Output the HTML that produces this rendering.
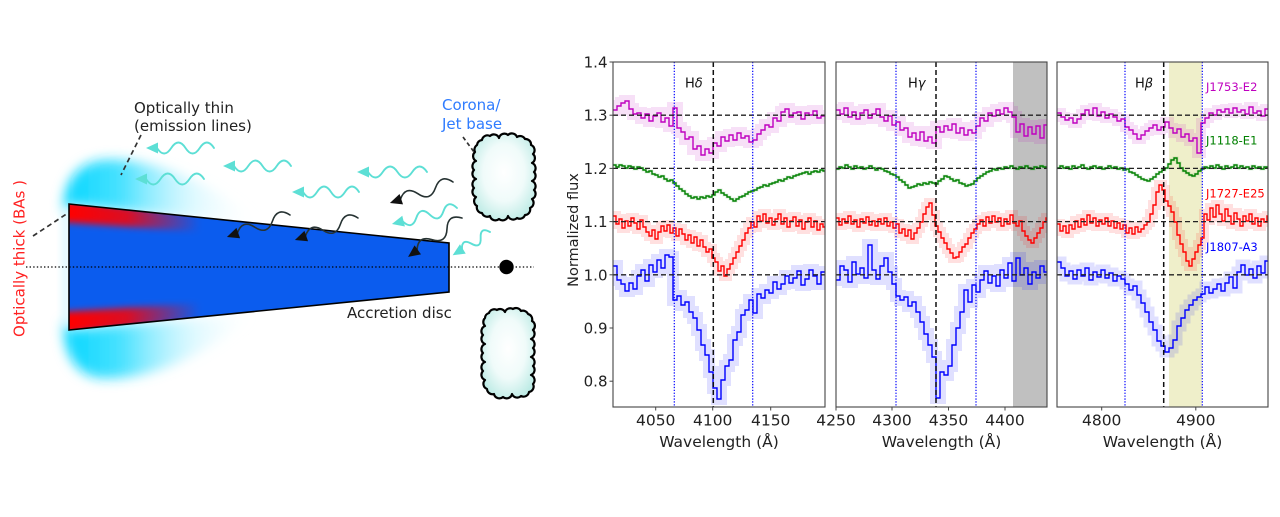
<!DOCTYPE html>
<html><head><meta charset="utf-8">
<style>
html,body{margin:0;padding:0;background:#fff;}
svg{display:block;}
text{font-family:"DejaVu Sans","Liberation Sans",sans-serif;}
</style></head><body>
<svg width="1280" height="517" viewBox="0 0 1280 517" xmlns="http://www.w3.org/2000/svg">
<defs>
  <filter id="blur6" x="-50%" y="-50%" width="200%" height="200%"><feGaussianBlur stdDeviation="6"/></filter>
  <filter id="blur3" x="-50%" y="-50%" width="200%" height="200%"><feGaussianBlur stdDeviation="3.5"/></filter>
  <linearGradient id="cyanL" gradientUnits="userSpaceOnUse" x1="62" y1="0" x2="262" y2="0">
    <stop offset="0" stop-color="#00d6ff" stop-opacity="1"/>
    <stop offset="0.3" stop-color="#2adcff" stop-opacity="0.85"/>
    <stop offset="0.65" stop-color="#a8efff" stop-opacity="0.4"/>
    <stop offset="1" stop-color="#ffffff" stop-opacity="0"/>
  </linearGradient>
  <linearGradient id="redL" gradientUnits="userSpaceOnUse" x1="69" y1="0" x2="200" y2="0">
    <stop offset="0" stop-color="#ff0000" stop-opacity="1"/>
    <stop offset="0.45" stop-color="#ff0000" stop-opacity="0.85"/>
    <stop offset="1" stop-color="#ff0000" stop-opacity="0"/>
  </linearGradient>
  <clipPath id="discClip"><polygon points="69,204 449,243 449,292 69,330"/></clipPath>
  <radialGradient id="cloudG" cx="0.5" cy="0.45" r="0.6">
    <stop offset="0" stop-color="#ffffff"/>
    <stop offset="0.55" stop-color="#f0fbfa"/>
    <stop offset="1" stop-color="#bdebe5"/>
  </radialGradient>
  <clipPath id="c1"><rect x="613" y="62" width="212" height="345"/></clipPath>
  <clipPath id="c2"><rect x="836" y="62" width="211" height="345"/></clipPath>
  <clipPath id="c3"><rect x="1057" y="62" width="211" height="345"/></clipPath>
</defs>
<rect width="1280" height="517" fill="#fff"/>

<!-- ===== Left diagram ===== -->
<path d="M64,214 C62,186 74,163 104,160 C150,157 215,183 265,226 L69,205 Z" fill="url(#cyanL)" filter="url(#blur6)"/>
<path d="M64,320 C62,350 74,375 100,378 C150,381 205,355 255,314 L69,329 Z" fill="url(#cyanL)" filter="url(#blur6)"/>
<rect x="61" y="210" width="9" height="115" fill="#c8f4ff" opacity="0.5" filter="url(#blur3)"/>

<polygon points="69,204 449,243 449,292 69,330" fill="#0b5cee"/>
<g clip-path="url(#discClip)">
  <polygon points="60,200 205,215 205,232 60,222" fill="url(#redL)" filter="url(#blur3)"/>
  <polygon points="60,312 205,303 205,320 60,334" fill="url(#redL)" filter="url(#blur3)"/>
</g>
<polygon points="69,204 449,243 449,292 69,330" fill="none" stroke="#000" stroke-width="1.6"/>

<line x1="26" y1="267" x2="534" y2="267" stroke="#000" stroke-width="1.3" stroke-dasharray="1.4 2.2"/>
<circle cx="506.5" cy="267" r="7.2" fill="#000"/>

<line x1="33" y1="236" x2="68" y2="213" stroke="#333" stroke-width="1.7" stroke-dasharray="5 3.5"/>
<line x1="141" y1="135" x2="121" y2="175" stroke="#333" stroke-width="1.7" stroke-dasharray="5 3.5"/>
<line x1="463" y1="137" x2="474" y2="152" stroke="#333" stroke-width="1.7" stroke-dasharray="4 3"/>

<!-- clouds -->
<path d="M482,140 A5.5,5.5 0 0 1 490,136 A5.5,5.5 0 0 1 499,138 A5.5,5.5 0 0 1 508,135 A5.5,5.5 0 0 1 517,137 A5.5,5.5 0 0 1 525,139 A5.5,5.5 0 0 1 531,145 A5.5,5.5 0 0 1 533,154 A5.5,5.5 0 0 1 532,163 A5.5,5.5 0 0 1 534,172 A5.5,5.5 0 0 1 532,181 A5.5,5.5 0 0 1 534,190 A5.5,5.5 0 0 1 532,199 A5.5,5.5 0 0 1 530,208 A5.5,5.5 0 0 1 525,215 A5.5,5.5 0 0 1 517,218 A5.5,5.5 0 0 1 508,216 A5.5,5.5 0 0 1 499,219 A5.5,5.5 0 0 1 490,216 A5.5,5.5 0 0 1 482,213 A5.5,5.5 0 0 1 477,206 A5.5,5.5 0 0 1 476,197 A5.5,5.5 0 0 1 474,188 A5.5,5.5 0 0 1 476,179 A5.5,5.5 0 0 1 474,170 A5.5,5.5 0 0 1 476,161 A5.5,5.5 0 0 1 475,152 A5.5,5.5 0 0 1 477,145 A5.5,5.5 0 0 1 482,140 Z" fill="url(#cloudG)" stroke="#000" stroke-width="2.2" stroke-linejoin="round"/>
<path d="M489,313 A5.5,5.5 0 0 1 497,310 A5.5,5.5 0 0 1 505,312 A5.5,5.5 0 0 1 513,309 A5.5,5.5 0 0 1 521,311 A5.5,5.5 0 0 1 528,314 A5.5,5.5 0 0 1 532,321 A5.5,5.5 0 0 1 533,330 A5.5,5.5 0 0 1 531,339 A5.5,5.5 0 0 1 533,348 A5.5,5.5 0 0 1 531,357 A5.5,5.5 0 0 1 533,366 A5.5,5.5 0 0 1 531,375 A5.5,5.5 0 0 1 533,384 A5.5,5.5 0 0 1 529,392 A5.5,5.5 0 0 1 521,396 A5.5,5.5 0 0 1 512,394 A5.5,5.5 0 0 1 503,397 A5.5,5.5 0 0 1 494,394 A5.5,5.5 0 0 1 487,389 A5.5,5.5 0 0 1 485,380 A5.5,5.5 0 0 1 483,371 A5.5,5.5 0 0 1 485,362 A5.5,5.5 0 0 1 483,353 A5.5,5.5 0 0 1 485,344 A5.5,5.5 0 0 1 483,335 A5.5,5.5 0 0 1 485,326 A5.5,5.5 0 0 1 485,318 A5.5,5.5 0 0 1 489,313 Z" fill="url(#cloudG)" stroke="#000" stroke-width="2.2" stroke-linejoin="round"/>

<!-- cyan wavy arrows -->
<g fill="none" stroke="#5ddfd5" stroke-width="1.9" stroke-linecap="round">
  <path transform="translate(214,148)" d="M0,0 q-7.1,-11 -14.25,0 t-14.25,0 t-14.25,0 t-14.25,0"/>
  <path transform="translate(204,179)" d="M0,0 q-7.25,-11 -14.5,0 t-14.5,0 t-14.5,0 t-14.5,0"/>
  <path transform="translate(291,166)" d="M0,0 q-7.1,-11 -14.25,0 t-14.25,0 t-14.25,0 t-14.25,0"/>
  <path transform="translate(427,172)" d="M0,0 q-7.4,-11 -14.75,0 t-14.75,0 t-14.75,0 t-14.75,0"/>
  <path transform="translate(359,192)" d="M0,0 q-7,-11 -14,0 t-14,0 t-14,0 t-14,0"/>
  <path transform="translate(457,208) rotate(-13.8)" d="M0,0 q-7,-11 -14,0 t-14,0 t-14,0 t-14,0"/>
  <path transform="translate(490,232) rotate(-31.9)" d="M0,0 q-5.5,-10 -11,0 t-11,0 t-11,0"/>
</g>
<g fill="#5ddfd5">
  <polygon transform="translate(214,148)" points="-68,0 -56,-5.5 -56,5.5"/>
  <polygon transform="translate(204,179)" points="-69,0 -57,-5.5 -57,5.5"/>
  <polygon transform="translate(291,166)" points="-68,0 -56,-5.5 -56,5.5"/>
  <polygon transform="translate(427,172)" points="-70,0 -58,-5.5 -58,5.5"/>
  <polygon transform="translate(359,192)" points="-67,0 -55,-5.5 -55,5.5"/>
  <polygon transform="translate(457,208) rotate(-13.8)" points="-67,0 -55,-5.5 -55,5.5"/>
  <polygon transform="translate(490,232) rotate(-31.9)" points="-44,0 -32,-5.5 -32,5.5"/>
</g>
<!-- dark wavy arrows -->
<g fill="none" stroke="#263232" stroke-width="1.6" stroke-linecap="round">
  <path transform="translate(453,182) rotate(-18.4)" d="M0,0 q-9.2,-12 -18.5,0 t-18.5,0 t-18.5,0"/>
  <path transform="translate(462,218) rotate(-35.8)" d="M0,0 q-9.2,-12 -18.5,0 t-18.5,0 t-18.5,0"/>
  <path transform="translate(358,218) rotate(-19.2)" d="M0,0 q-9.3,-12 -18.6,0 t-18.6,0 t-18.6,0"/>
  <path transform="translate(290,215) rotate(-19.2)" d="M0,0 q-9.3,-12 -18.6,0 t-18.6,0 t-18.6,0"/>
</g>
<g fill="#111">
  <polygon transform="translate(453,182) rotate(-18.4)" points="-66.5,0 -54.5,-5.5 -54.5,5.5"/>
  <polygon transform="translate(462,218) rotate(-35.8)" points="-66.5,0 -54.5,-5.5 -54.5,5.5"/>
  <polygon transform="translate(358,218) rotate(-19.2)" points="-66.8,0 -54.8,-5.5 -54.8,5.5"/>
  <polygon transform="translate(290,215) rotate(-19.2)" points="-66.8,0 -54.8,-5.5 -54.8,5.5"/>
</g>

<text x="134" y="113" font-size="15" fill="#222">Optically thin</text>
<text x="134" y="131" font-size="15" fill="#222">(emission lines)</text>
<text x="442" y="110" font-size="15" fill="#2f7cff">Corona/</text>
<text x="442" y="129" font-size="15" fill="#2f7cff">Jet base</text>
<text x="347" y="318" font-size="15" fill="#222">Accretion disc</text>
<text transform="translate(24.5,258.5) rotate(-90)" text-anchor="middle" font-size="15" fill="#ff2222">Optically thick (BAs )</text>

<!-- ===== Spectra panels ===== -->
<rect x="1013" y="62" width="34" height="345" fill="#c0c0c0"/>
<rect x="1169" y="62" width="33" height="345" fill="#efefca"/>

<!-- Panel 1 -->
<g clip-path="url(#c1)" fill="none">
  <g stroke-opacity="0.12">
    <path stroke="#bf00bf" stroke-width="12" d="M613,110h4V106h4V103h4V101h4V109h4V114h4V113h4V118h4V114h4V121h4V116h4V113h4V122h4V118h4V126h4V108h4V128h4V132h4V139h4V137h4V149h4V146h4V155h4V149h4V153h4V143h4V146h4V137h4V141h4V135h4V140h4V133h4V138h4V136h4V142h4V140h4V134h4V130h4V125h4V127h4V118h4V121h4V112h4V109h4V117h4V113h4V112h4V119h4V113h4V115h4V111h4V118h4V116h4"/>
    <path stroke="#ff0000" stroke-width="10" d="M613,216h3V224h3V219h3V228h3V221h3V226h3V218h3V223h3V229h3V220h3V227h3V232h3V236h3V230h3V239h3V232h3V226h3V231h3V225h3V233h3V228h3V236h3V229h3V234h3V240h3V235h3V243h3V237h3V246h3V240h3V247h3V252h3V249h3V258h3V262h3V271h3V266h3V276h3V269h3V264h3V258h3V252h3V246h3V240h3V233h3V228h3V222h3V227h3V216h3V221h3V214h3V223h3V218h3V225h3V219h3V214h3V224h3V218h3V227h3V221h3V217h3V226h3V220h3V229h3V222h3V218h3V227h3V221h3V230h3V224h3V227h3"/>
    <path stroke="#0000ff" stroke-width="12" d="M613,266h4V280h4V284h4V291h4V283h4V289h4V276h4V270h4V281h4V265h4V272h4V260h4V268h4V255h4V257h4V300h4V296h4V305h4V302h4V312h4V318h4V330h4V345h4V355h4V372h4V388h4V399h4V380h4V366h4V360h4V340h4V332h4V315h4V310h4V300h4V313h4V294h4V298h4V290h4V293h4V282h4V289h4V284h4V276h4V283h4V278h4V271h4V285h4V279h4V270h4V276h4V284h4V272h4"/>
    <path stroke="#008000" stroke-width="3" d="M613,165h3V167h3V165h3V166h3V168h3V166h3V167h3V169h3V167h3V168h3V170h3V172h3V171h3V174h3V175h3V177h3V176h3V179h3V181h3V180h3V183h3V186h3V189h3V191h3V194h3V196h3V198h3V197h3V199h3V197h3V198h3V196h3V197h3V195h3V192h3V190h3V193h3V195h3V197h3V199h3V201h3V199h3V197h3V196h3V194h3V192h3V191h3V190h3V188h3V187h3V185h3V186h3V184h3V183h3V182h3V180h3V181h3V179h3V177h3V178h3V176h3V175h3V174h3V173h3V172h3V174h3V172h3V171h3V172h3V170h3V171h3"/>
  </g>
  <g stroke-width="1.4">
    <path stroke="#bf00bf" d="M613,110h4V106h4V103h4V101h4V109h4V114h4V113h4V118h4V114h4V121h4V116h4V113h4V122h4V118h4V126h4V108h4V128h4V132h4V139h4V137h4V149h4V146h4V155h4V149h4V153h4V143h4V146h4V137h4V141h4V135h4V140h4V133h4V138h4V136h4V142h4V140h4V134h4V130h4V125h4V127h4V118h4V121h4V112h4V109h4V117h4V113h4V112h4V119h4V113h4V115h4V111h4V118h4V116h4"/>
    <path stroke="#008000" d="M613,165h3V167h3V165h3V166h3V168h3V166h3V167h3V169h3V167h3V168h3V170h3V172h3V171h3V174h3V175h3V177h3V176h3V179h3V181h3V180h3V183h3V186h3V189h3V191h3V194h3V196h3V198h3V197h3V199h3V197h3V198h3V196h3V197h3V195h3V192h3V190h3V193h3V195h3V197h3V199h3V201h3V199h3V197h3V196h3V194h3V192h3V191h3V190h3V188h3V187h3V185h3V186h3V184h3V183h3V182h3V180h3V181h3V179h3V177h3V178h3V176h3V175h3V174h3V173h3V172h3V174h3V172h3V171h3V172h3V170h3V171h3"/>
    <path stroke="#ff0000" d="M613,216h3V224h3V219h3V228h3V221h3V226h3V218h3V223h3V229h3V220h3V227h3V232h3V236h3V230h3V239h3V232h3V226h3V231h3V225h3V233h3V228h3V236h3V229h3V234h3V240h3V235h3V243h3V237h3V246h3V240h3V247h3V252h3V249h3V258h3V262h3V271h3V266h3V276h3V269h3V264h3V258h3V252h3V246h3V240h3V233h3V228h3V222h3V227h3V216h3V221h3V214h3V223h3V218h3V225h3V219h3V214h3V224h3V218h3V227h3V221h3V217h3V226h3V220h3V229h3V222h3V218h3V227h3V221h3V230h3V224h3V227h3"/>
    <path stroke="#0000ff" d="M613,266h4V280h4V284h4V291h4V283h4V289h4V276h4V270h4V281h4V265h4V272h4V260h4V268h4V255h4V257h4V300h4V296h4V305h4V302h4V312h4V318h4V330h4V345h4V355h4V372h4V388h4V399h4V380h4V366h4V360h4V340h4V332h4V315h4V310h4V300h4V313h4V294h4V298h4V290h4V293h4V282h4V289h4V284h4V276h4V283h4V278h4V271h4V285h4V279h4V270h4V276h4V284h4V272h4"/>
  </g>
  <g stroke="#222" stroke-width="1.3" stroke-dasharray="5 3">
    <line x1="613" y1="115.2" x2="825" y2="115.2"/>
    <line x1="613" y1="168.4" x2="825" y2="168.4"/>
    <line x1="613" y1="221.6" x2="825" y2="221.6"/>
    <line x1="613" y1="274.8" x2="825" y2="274.8"/>
  </g>
  <g stroke="#0000ff" stroke-width="1.2" stroke-dasharray="1.3 1.6">
    <line x1="674.3" y1="62" x2="674.3" y2="407"/>
    <line x1="752.7" y1="62" x2="752.7" y2="407"/>
  </g>
  <line x1="713.3" y1="62" x2="713.3" y2="407" stroke="#111" stroke-width="1.5" stroke-dasharray="5 3"/>
</g>

<!-- Panel 2 -->
<g clip-path="url(#c2)" fill="none">
  <g stroke-opacity="0.12">
    <path stroke="#bf00bf" stroke-width="12" d="M836,110h4V114h4V108h4V117h4V112h4V119h4V113h4V110h4V118h4V114h4V109h4V117h4V121h4V116h4V125h4V122h4V130h4V128h4V137h4V133h4V140h4V132h4V141h4V137h4V143h4V127h4V132h4V126h4V130h4V124h4V133h4V128h4V135h4V130h4V133h4V126h4V118h4V121h4V113h4V116h4V110h4V114h4V108h4V112h4V117h4V132h4V124h4V136h4V127h4V134h4V126h4V138h4V125h4"/>
    <path stroke="#ff0000" stroke-width="10" d="M836,218h3V225h3V219h3V223h3V216h3V224h3V220h3V227h3V219h3V223h3V217h3V225h3V221h3V226h3V219h3V224h3V218h3V226h3V222h3V228h3V224h3V233h3V229h3V236h3V230h3V239h3V233h3V228h3V222h3V214h3V207h3V203h3V215h3V226h3V232h3V238h3V243h3V249h3V253h3V258h3V257h3V252h3V247h3V244h3V238h3V233h3V229h3V224h3V220h3V226h3V217h3V223h3V216h3V222h3V218h3V226h3V219h3V224h3V215h3V223h3V226h3V221h3V231h3V236h3V240h3V243h3V238h3V233h3V228h3V222h3V218h3"/>
    <path stroke="#0000ff" stroke-width="12" d="M836,280h4V266h4V270h4V282h4V262h4V274h4V268h4V278h4V245h4V270h4V279h4V266h4V258h4V272h4V284h4V296h4V300h4V297h4V306h4V302h4V312h4V322h4V334h4V345h4V357h4V398h4V372h4V375h4V366h4V345h4V328h4V312h4V290h4V302h4V285h4V292h4V280h4V271h4V283h4V276h4V286h4V270h4V278h4V263h4V281h4V258h4V275h4V268h4V284h4V272h4V278h4V266h4V272h4"/>
    <path stroke="#008000" stroke-width="3" d="M836,169h3V167h3V168h3V165h3V167h3V169h3V166h3V168h3V167h3V169h3V168h3V166h3V168h3V170h3V168h3V169h3V171h3V172h3V174h3V175h3V177h3V180h3V182h3V185h3V188h3V187h3V186h3V184h3V185h3V183h3V184h3V182h3V183h3V184h3V181h3V179h3V176h3V177h3V179h3V181h3V180h3V183h3V184h3V186h3V185h3V184h3V181h3V178h3V176h3V174h3V172h3V171h3V169h3V170h3V168h3V169h3V167h3V168h3V166h3V168h3V169h3V167h3V168h3V166h3V168h3V169h3V167h3V168h3V166h3V167h3V168h3"/>
  </g>
  <g stroke-width="1.4">
    <path stroke="#bf00bf" d="M836,110h4V114h4V108h4V117h4V112h4V119h4V113h4V110h4V118h4V114h4V109h4V117h4V121h4V116h4V125h4V122h4V130h4V128h4V137h4V133h4V140h4V132h4V141h4V137h4V143h4V127h4V132h4V126h4V130h4V124h4V133h4V128h4V135h4V130h4V133h4V126h4V118h4V121h4V113h4V116h4V110h4V114h4V108h4V112h4V117h4V132h4V124h4V136h4V127h4V134h4V126h4V138h4V125h4"/>
    <path stroke="#008000" d="M836,169h3V167h3V168h3V165h3V167h3V169h3V166h3V168h3V167h3V169h3V168h3V166h3V168h3V170h3V168h3V169h3V171h3V172h3V174h3V175h3V177h3V180h3V182h3V185h3V188h3V187h3V186h3V184h3V185h3V183h3V184h3V182h3V183h3V184h3V181h3V179h3V176h3V177h3V179h3V181h3V180h3V183h3V184h3V186h3V185h3V184h3V181h3V178h3V176h3V174h3V172h3V171h3V169h3V170h3V168h3V169h3V167h3V168h3V166h3V168h3V169h3V167h3V168h3V166h3V168h3V169h3V167h3V168h3V166h3V167h3V168h3"/>
    <path stroke="#ff0000" d="M836,218h3V225h3V219h3V223h3V216h3V224h3V220h3V227h3V219h3V223h3V217h3V225h3V221h3V226h3V219h3V224h3V218h3V226h3V222h3V228h3V224h3V233h3V229h3V236h3V230h3V239h3V233h3V228h3V222h3V214h3V207h3V203h3V215h3V226h3V232h3V238h3V243h3V249h3V253h3V258h3V257h3V252h3V247h3V244h3V238h3V233h3V229h3V224h3V220h3V226h3V217h3V223h3V216h3V222h3V218h3V226h3V219h3V224h3V215h3V223h3V226h3V221h3V231h3V236h3V240h3V243h3V238h3V233h3V228h3V222h3V218h3"/>
    <path stroke="#0000ff" d="M836,280h4V266h4V270h4V282h4V262h4V274h4V268h4V278h4V245h4V270h4V279h4V266h4V258h4V272h4V284h4V296h4V300h4V297h4V306h4V302h4V312h4V322h4V334h4V345h4V357h4V398h4V372h4V375h4V366h4V345h4V328h4V312h4V290h4V302h4V285h4V292h4V280h4V271h4V283h4V276h4V286h4V270h4V278h4V263h4V281h4V258h4V275h4V268h4V284h4V272h4V278h4V266h4V272h4"/>
  </g>
  <g stroke="#222" stroke-width="1.3" stroke-dasharray="5 3">
    <line x1="836" y1="115.2" x2="1047" y2="115.2"/>
    <line x1="836" y1="168.4" x2="1047" y2="168.4"/>
    <line x1="836" y1="221.6" x2="1047" y2="221.6"/>
    <line x1="836" y1="274.8" x2="1047" y2="274.8"/>
  </g>
  <g stroke="#0000ff" stroke-width="1.2" stroke-dasharray="1.3 1.6">
    <line x1="896" y1="62" x2="896" y2="407"/>
    <line x1="976" y1="62" x2="976" y2="407"/>
  </g>
  <line x1="936" y1="62" x2="936" y2="407" stroke="#111" stroke-width="1.5" stroke-dasharray="5 3"/>
</g>

<!-- Panel 3 -->
<g clip-path="url(#c3)" fill="none">
  <g stroke-opacity="0.12">
    <path stroke="#bf00bf" stroke-width="10" d="M1057,113h4V117h4V120h4V118h4V123h4V119h4V114h4V110h4V115h4V108h4V116h4V112h4V118h4V114h4V117h4V121h4V119h4V127h4V130h4V134h4V139h4V135h4V131h4V128h4V125h4V130h4V127h4V122h4V128h4V133h4V129h4V137h4V134h4V141h4V138h4V153h4V123h4V118h4V113h4V115h4V110h4V112h4V109h4V113h4V108h4V112h4V110h4V114h4V107h4V113h4V111h4V116h4V109h4"/>
    <path stroke="#ff0000" stroke-width="10" d="M1057,224h3V231h3V226h3V233h3V225h3V229h3V221h3V227h3V219h3V225h3V215h3V223h3V218h3V226h3V220h3V224h3V218h3V226h3V221h3V228h3V223h3V229h3V225h3V233h3V228h3V234h3V227h3V232h3V229h3V225h3V222h3V214h3V205h3V192h3V185h3V190h3V201h3V206h3V212h3V222h3V235h3V244h3V252h3V261h3V266h3V259h3V252h3V245h3V238h3V214h3V220h3V208h3V217h3V205h3V214h3V221h3V209h3V216h3V224h3V213h3V219h3V226h3V216h3V221h3V214h3V224h3V218h3V226h3V219h3V222h3V216h3"/>
    <path stroke="#0000ff" stroke-width="11" d="M1057,262h4V268h4V276h4V271h4V279h4V270h4V276h4V268h4V280h4V272h4V277h4V270h4V278h4V273h4V281h4V276h4V279h4V284h4V290h4V286h4V295h4V303h4V312h4V322h4V330h4V341h4V346h4V352h4V348h4V340h4V326h4V318h4V310h4V305h4V300h4V297h4V294h4V287h4V293h4V289h4V284h4V291h4V283h4V277h4V288h4V272h4V265h4V275h4V269h4V278h4V266h4V273h4V261h4"/>
    <path stroke="#008000" stroke-width="3" d="M1057,168h3V166h3V168h3V167h3V169h3V166h3V168h3V167h3V165h3V168h3V169h3V167h3V166h3V168h3V167h3V169h3V168h3V166h3V168h3V167h3V169h3V168h3V170h3V169h3V172h3V173h3V175h3V177h3V179h3V180h3V181h3V179h3V177h3V174h3V172h3V170h3V168h3V164h3V160h3V158h3V163h3V168h3V171h3V173h3V175h3V176h3V174h3V171h3V169h3V167h3V168h3V166h3V168h3V165h3V167h3V169h3V166h3V168h3V167h3V165h3V168h3V166h3V168h3V167h3V169h3V166h3V168h3V167h3V169h3V167h3V168h3"/>
  </g>
  <g stroke-width="1.4">
    <path stroke="#bf00bf" d="M1057,113h4V117h4V120h4V118h4V123h4V119h4V114h4V110h4V115h4V108h4V116h4V112h4V118h4V114h4V117h4V121h4V119h4V127h4V130h4V134h4V139h4V135h4V131h4V128h4V125h4V130h4V127h4V122h4V128h4V133h4V129h4V137h4V134h4V141h4V138h4V153h4V123h4V118h4V113h4V115h4V110h4V112h4V109h4V113h4V108h4V112h4V110h4V114h4V107h4V113h4V111h4V116h4V109h4"/>
    <path stroke="#008000" d="M1057,168h3V166h3V168h3V167h3V169h3V166h3V168h3V167h3V165h3V168h3V169h3V167h3V166h3V168h3V167h3V169h3V168h3V166h3V168h3V167h3V169h3V168h3V170h3V169h3V172h3V173h3V175h3V177h3V179h3V180h3V181h3V179h3V177h3V174h3V172h3V170h3V168h3V164h3V160h3V158h3V163h3V168h3V171h3V173h3V175h3V176h3V174h3V171h3V169h3V167h3V168h3V166h3V168h3V165h3V167h3V169h3V166h3V168h3V167h3V165h3V168h3V166h3V168h3V167h3V169h3V166h3V168h3V167h3V169h3V167h3V168h3"/>
    <path stroke="#ff0000" d="M1057,224h3V231h3V226h3V233h3V225h3V229h3V221h3V227h3V219h3V225h3V215h3V223h3V218h3V226h3V220h3V224h3V218h3V226h3V221h3V228h3V223h3V229h3V225h3V233h3V228h3V234h3V227h3V232h3V229h3V225h3V222h3V214h3V205h3V192h3V185h3V190h3V201h3V206h3V212h3V222h3V235h3V244h3V252h3V261h3V266h3V259h3V252h3V245h3V238h3V214h3V220h3V208h3V217h3V205h3V214h3V221h3V209h3V216h3V224h3V213h3V219h3V226h3V216h3V221h3V214h3V224h3V218h3V226h3V219h3V222h3V216h3"/>
    <path stroke="#0000ff" d="M1057,262h4V268h4V276h4V271h4V279h4V270h4V276h4V268h4V280h4V272h4V277h4V270h4V278h4V273h4V281h4V276h4V279h4V284h4V290h4V286h4V295h4V303h4V312h4V322h4V330h4V341h4V346h4V352h4V348h4V340h4V326h4V318h4V310h4V305h4V300h4V297h4V294h4V287h4V293h4V289h4V284h4V291h4V283h4V277h4V288h4V272h4V265h4V275h4V269h4V278h4V266h4V273h4V261h4"/>
  </g>
  <g stroke="#222" stroke-width="1.3" stroke-dasharray="5 3">
    <line x1="1057" y1="115.2" x2="1268" y2="115.2"/>
    <line x1="1057" y1="168.4" x2="1268" y2="168.4"/>
    <line x1="1057" y1="221.6" x2="1268" y2="221.6"/>
    <line x1="1057" y1="274.8" x2="1268" y2="274.8"/>
  </g>
  <g stroke="#0000ff" stroke-width="1.2" stroke-dasharray="1.3 1.6">
    <line x1="1125" y1="62" x2="1125" y2="407"/>
    <line x1="1202.3" y1="62" x2="1202.3" y2="407"/>
  </g>
  <line x1="1163.7" y1="62" x2="1163.7" y2="407" stroke="#111" stroke-width="1.5" stroke-dasharray="5 3"/>
</g>

<!-- frames -->
<rect x="613" y="62" width="212" height="345" fill="none" stroke="#444" stroke-width="1.1"/>
<rect x="836" y="62" width="211" height="345" fill="none" stroke="#444" stroke-width="1.1"/>
<rect x="1057" y="62" width="211" height="345" fill="none" stroke="#444" stroke-width="1.1"/>

<!-- ticks -->
<g stroke="#444" stroke-width="1">
  <line x1="609.5" y1="62" x2="613" y2="62"/>
  <line x1="609.5" y1="115.2" x2="613" y2="115.2"/>
  <line x1="609.5" y1="168.4" x2="613" y2="168.4"/>
  <line x1="609.5" y1="221.6" x2="613" y2="221.6"/>
  <line x1="609.5" y1="274.8" x2="613" y2="274.8"/>
  <line x1="609.5" y1="328" x2="613" y2="328"/>
  <line x1="609.5" y1="381.2" x2="613" y2="381.2"/>
  <line x1="655.7" y1="407" x2="655.7" y2="410.5"/>
  <line x1="712.7" y1="407" x2="712.7" y2="410.5"/>
  <line x1="770.7" y1="407" x2="770.7" y2="410.5"/>
  <line x1="836" y1="407" x2="836" y2="410.5"/>
  <line x1="892" y1="407" x2="892" y2="410.5"/>
  <line x1="948.5" y1="407" x2="948.5" y2="410.5"/>
  <line x1="1005" y1="407" x2="1005" y2="410.5"/>
  <line x1="1101.7" y1="407" x2="1101.7" y2="410.5"/>
  <line x1="1195.8" y1="407" x2="1195.8" y2="410.5"/>
</g>
<g font-size="15" fill="#222" text-anchor="end">
  <text x="607.5" y="67.5">1.4</text>
  <text x="607.5" y="120.7">1.3</text>
  <text x="607.5" y="173.9">1.2</text>
  <text x="607.5" y="227.1">1.1</text>
  <text x="607.5" y="280.3">1.0</text>
  <text x="607.5" y="333.5">0.9</text>
  <text x="607.5" y="386.7">0.8</text>
</g>
<g font-size="15.5" fill="#222" text-anchor="middle">
  <text x="655.7" y="425.5">4050</text>
  <text x="712.7" y="425.5">4100</text>
  <text x="770.7" y="425.5">4150</text>
  <text x="836" y="425.5">4250</text>
  <text x="892" y="425.5">4300</text>
  <text x="948.5" y="425.5">4350</text>
  <text x="1005" y="425.5">4400</text>
  <text x="1101.7" y="425.5">4800</text>
  <text x="1195.8" y="425.5">4900</text>
  <text x="719" y="447">Wavelength (Å)</text>
  <text x="941.5" y="447">Wavelength (Å)</text>
  <text x="1162.5" y="447">Wavelength (Å)</text>
</g>
<text transform="translate(578,230) rotate(-90)" text-anchor="middle" font-size="14.5" fill="#222">Normalized flux</text>

<g font-size="13" fill="#111">
  <text x="685" y="87.5">H<tspan font-style="italic">δ</tspan></text>
  <text x="908" y="87.5">H<tspan font-style="italic">γ</tspan></text>
  <text x="1135" y="87.5">H<tspan font-style="italic">β</tspan></text>
</g>
<g font-size="11.5">
  <text x="1206" y="91" fill="#bf00bf">J1753-E2</text>
  <text x="1206" y="144.5" fill="#008000">J1118-E1</text>
  <text x="1206" y="197.5" fill="#ff0000">J1727-E25</text>
  <text x="1206" y="251" fill="#0000ff">J1807-A3</text>
</g>
</svg>
</body></html>
